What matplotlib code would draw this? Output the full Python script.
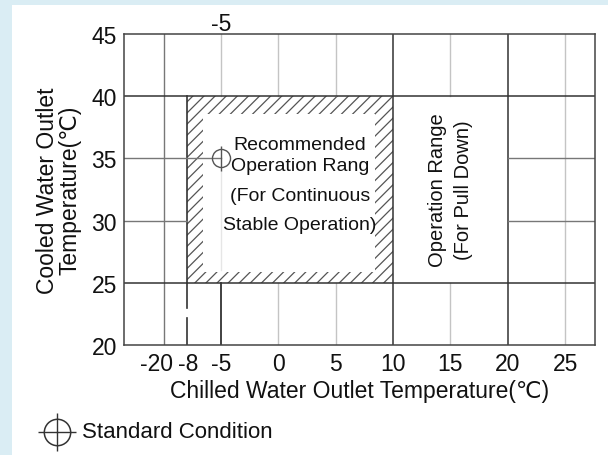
import matplotlib
matplotlib.use("Agg")
import matplotlib.pyplot as plt
import matplotlib.patches as patches
from matplotlib.lines import Line2D
from matplotlib.transforms import ScaledTranslation

plt.rcParams['font.family'] = ['Liberation Sans', 'DejaVu Sans']
plt.rcParams['hatch.linewidth'] = 0.9

# axis ticks (the leftmost tick is drawn at -10 but labelled -20, as in the original drawing)
x_ticks = [-10, -8, -5, 0, 5, 10, 15, 20, 25]
x_tick_labels = ['-20', '-8', '-5', '0', '5', '10', '15', '20', '25']
y_ticks = [20, 25, 30, 35, 40, 45]

# recommended operation range (hatched box)
rec_x = [-8, 10]
rec_y = [25, 40]
# pull down operation range
pull_x = [10, 20]
# standard condition
std_point = (-5, 35)

rec_lines = ['Recommended', 'Operation Rang', '(For Continuous', 'Stable Operation)']
pull_text = 'Operation Range\n(For Pull Down)'

dark = '#333333'
light = '#c4c4c4'
mid = '#777777'
txt = '#111111'

fig = plt.figure(figsize=(6.08, 4.56), dpi=100)
fig.patch.set_facecolor('#daedf4')
fig.add_artist(patches.Rectangle((12 / 608, 0), 1, 450 / 456, transform=fig.transFigure,
                                 facecolor='white', edgecolor='none', zorder=0))
ax = fig.add_axes([124 / 608, 1 - 346 / 456, 471 / 608, 311 / 456])
ax.set_facecolor('white')
ax.set_xlim(-13.45, 27.6)
ax.set_ylim(20, 45)

# hatched band with white inside
ax.add_patch(patches.Rectangle((rec_x[0], rec_y[0]), rec_x[1] - rec_x[0], rec_y[1] - rec_y[0],
                               facecolor='white', edgecolor='#555555', hatch='///', linewidth=0, zorder=1))
ax.add_patch(patches.Rectangle((rec_x[0] + 1.4, rec_y[0] + 0.85), rec_x[1] - rec_x[0] - 3.0,
                               rec_y[1] - rec_y[0] - 2.25, facecolor='white', edgecolor='none', zorder=2))

# grid: vertical segments
for x in [0, 5]:
    ax.plot([x, x], [20, rec_y[0]], color=light, lw=1, zorder=3)
    ax.plot([x, x], [rec_y[1], 45], color=light, lw=1, zorder=3)
ax.plot([-5, -5], [rec_y[1], 45], color=light, lw=1, zorder=3)
ax.plot([-5, -5], [20, rec_y[0]], color=dark, lw=1.3, zorder=3)
ax.plot([-5, -5], [26, 34], color='#e6e6e6', lw=1, zorder=3)
ax.plot([-10, -10], [20, 45], color=mid, lw=1, zorder=3)
ax.plot([15, 15], [20, rec_y[0]], color=light, lw=1, zorder=3)
ax.plot([15, 15], [rec_y[1], 45], color=light, lw=1, zorder=3)
ax.plot([25, 25], [20, 45], color=light, lw=1, zorder=3)
for x in pull_x:
    ax.plot([x, x], [20, 45], color=dark, lw=1.1, zorder=3)
# -8 boundary, broken below 25
ax.plot([rec_x[0], rec_x[0]], [rec_y[0], rec_y[1]], color=dark, lw=1.2, zorder=3)
ax.plot([rec_x[0], rec_x[0]], [23.0, rec_y[0]], color=dark, lw=1.2, zorder=3)
ax.plot([rec_x[0], rec_x[0]], [20, 22.2], color=dark, lw=1.2, zorder=3)

# grid: horizontal segments
for y in rec_y:
    ax.plot([-13.45, 27.6], [y, y], color=dark, lw=1.1, zorder=3)
for y in [30, 35]:
    ax.plot([-13.45, rec_x[0]], [y, y], color=mid, lw=1, zorder=3)
    ax.plot([pull_x[1], 27.6], [y, y], color=mid, lw=1, zorder=3)
ax.plot([rec_x[0], std_point[0]], [35, 35], color=mid, lw=1, zorder=3)

# standard condition marker
ax.plot(*std_point, marker='o', ms=13, mfc='none', mec='#555555', mew=1, zorder=4)
ax.plot(*std_point, marker='|', ms=18, mec='#555555', mew=1, zorder=4)

# texts
for line, y in zip(rec_lines, [36.15, 34.4, 32.05, 29.7]):
    ax.text(1.9, y, line, ha='center', va='center', fontsize=14, color=txt, zorder=5)
ax.text(15, 32.5, pull_text, rotation=90, ha='center', va='center', fontsize=14.5,
        color=txt, linespacing=1.5, zorder=5)
ax.annotate('-5', xy=(-5, 45), xytext=(0, -1), textcoords='offset points',
            ha='center', va='bottom', fontsize=16.5, color=txt)

ax.set_xticks(x_ticks)
ax.set_xticklabels(x_tick_labels)
ax.set_yticks(y_ticks)
ax.tick_params(length=0, labelsize=16.5, pad=5, colors=txt)
ax.tick_params(axis='x', pad=5)
# the "-20" label sits a little left of its line so it does not run into "-8"
lab = ax.get_xticklabels()[0]
lab.set_transform(lab.get_transform() + ScaledTranslation(-0.07, 0, fig.dpi_scale_trans))
lab = ax.get_xticklabels()[1]
lab.set_transform(lab.get_transform() + ScaledTranslation(0.02, 0, fig.dpi_scale_trans))
for sp in ax.spines.values():
    sp.set_color('#444444')
    sp.set_linewidth(1.1)
    sp.set_zorder(6)

ax.set_xlabel('Chilled Water Outlet Temperature(℃)', fontsize=16.5, labelpad=3, color=txt)
ax.set_ylabel('Cooled Water Outlet\nTemperature(℃)', fontsize=16.5, labelpad=7,
              linespacing=1.0, color=txt)

# legend at bottom
lx, ly = 57 / 608, 1 - 433 / 456
fig.add_artist(Line2D([lx], [ly], transform=fig.transFigure, marker='o', ms=19,
                      mfc='none', mec='#333333', mew=1.1))
fig.add_artist(Line2D([lx], [ly], transform=fig.transFigure, marker='+', ms=28,
                      mec='#333333', mew=1.0))
fig.text(82 / 608, ly, 'Standard Condition', ha='left', va='center', fontsize=16, color=txt)

fig.savefig('out.png', dpi=100, facecolor=fig.get_facecolor())
